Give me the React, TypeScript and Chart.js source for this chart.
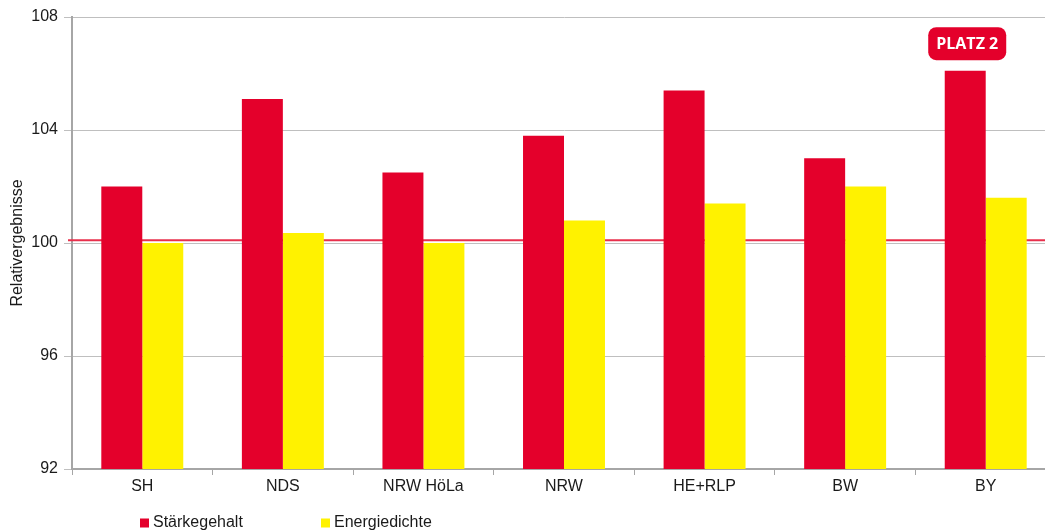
import React, { useEffect, useRef } from "react";
import { Chart, registerables } from "chart.js";

Chart.register(...registerables);

const categories = ["SH", "NDS", "NRW HöLa", "NRW", "HE+RLP", "BW", "BY"];
const staerkegehalt = [102.0, 105.1, 102.5, 103.8, 105.4, 103.0, 106.1];
const energiedichte = [100.0, 100.35, 100.0, 100.8, 101.4, 102.0, 101.6];
const seriesNames = ["Stärkegehalt", "Energiedichte"];
const referenceValue = 100.1;
const badgeText = "PLATZ 2";
const badgeIndex = 6;
const yTitle = "Relativergebnisse";

const RED = "#e4002b";
const YELLOW = "#fff200";
const FONT = "'Liberation Sans', Arial, sans-serif";

const refLinePlugin = {
  id: "refLine",
  beforeDatasetsDraw(chart: any) {
    const { ctx, chartArea, scales } = chart;
    const y = scales.y.getPixelForValue(referenceValue);
    ctx.save();
    ctx.strokeStyle = "#e8304c";
    ctx.lineWidth = 2;
    ctx.beginPath();
    ctx.moveTo(chartArea.left - 4, y);
    ctx.lineTo(chartArea.right, y);
    ctx.stroke();
    ctx.restore();
  },
};

const badgePlugin = {
  id: "badge",
  afterDatasetsDraw(chart: any) {
    const { ctx } = chart;
    const bar = chart.getDatasetMeta(0).data[badgeIndex];
    if (!bar) return;
    const cx = bar.x + 2;
    const cy = bar.y - 27;
    const w = 78;
    const h = 33;
    const r = 8;
    ctx.save();
    ctx.fillStyle = RED;
    ctx.beginPath();
    ctx.roundRect(cx - w / 2, cy - h / 2, w, h, r);
    ctx.fill();
    ctx.fillStyle = "#ffffff";
    ctx.font = "bold 16px 'Open Sans', sans-serif";
    ctx.textAlign = "center";
    ctx.textBaseline = "middle";
    ctx.fillText(badgeText, cx, cy + 1);
    ctx.restore();
  },
};

const legendPlugin = {
  id: "customLegend",
  afterDraw(chart: any) {
    const { ctx } = chart;
    const positions = [140, 321];
    const y = 523;
    ctx.save();
    ctx.font = `16px ${FONT}`;
    ctx.textBaseline = "middle";
    ctx.textAlign = "left";
    chart.data.datasets.forEach((ds: any, i: number) => {
      const x = positions[i];
      ctx.fillStyle = ds.backgroundColor;
      ctx.fillRect(x, y - 4.5, 9, 9);
      ctx.fillStyle = "#1a1a1a";
      ctx.fillText(ds.label, x + 13, y);
    });
    ctx.restore();
  },
};

export default function App() {
  const ref = useRef<HTMLCanvasElement>(null);
  useEffect(() => {
    if (!ref.current) return;
    const chart = new Chart(ref.current, {
      type: "bar",
      data: {
        labels: categories,
        datasets: [
          { label: seriesNames[0], data: staerkegehalt, backgroundColor: RED },
          { label: seriesNames[1], data: energiedichte, backgroundColor: YELLOW },
        ],
      },
      options: {
        responsive: false,
        animation: false,
        layout: { padding: { top: 17, right: 4, left: 0, bottom: 0 } },
        plugins: {
          legend: { display: false },
          tooltip: { enabled: false },
        },
        datasets: {
          bar: { barPercentage: 1, categoryPercentage: 0.583 },
        },
        scales: {
          x: {
            grid: {
              offset: true,
              drawOnChartArea: false,
              drawTicks: true,
              tickLength: 6,
              color: "#a6a6a6",
              lineWidth: 1,
            },
            border: { color: "#a6a6a6", width: 2 },
            ticks: {
              color: "#1a1a1a",
              font: { size: 16, family: FONT },
              padding: 2,
            },
            afterFit(scale: any) {
              scale.height = 62;
            },
          },
          y: {
            min: 92,
            max: 108,
            ticks: {
              stepSize: 4,
              color: "#1a1a1a",
              font: { size: 16, family: FONT },
              padding: 6,
            },
            grid: {
              color: "#bfbfbf",
              lineWidth: 1,
              tickLength: 8,
            },
            border: { color: "#a6a6a6", width: 2 },
            title: {
              display: true,
              text: yTitle,
              color: "#1a1a1a",
              font: { size: 16, family: FONT },
              padding: { top: 8, bottom: 0 },
            },
            afterFit(scale: any) {
              scale.width = 72;
            },
          },
        },
      },
      plugins: [refLinePlugin, badgePlugin, legendPlugin],
    });
    return () => chart.destroy();
  }, []);
  return (
    <div style={{ position: "absolute", left: 0, top: 0, width: 1045, height: 531, overflow: "hidden", background: "#fff" }}>
      <canvas ref={ref} width={1060} height={531} style={{ display: "block" }} />
    </div>
  );
}
